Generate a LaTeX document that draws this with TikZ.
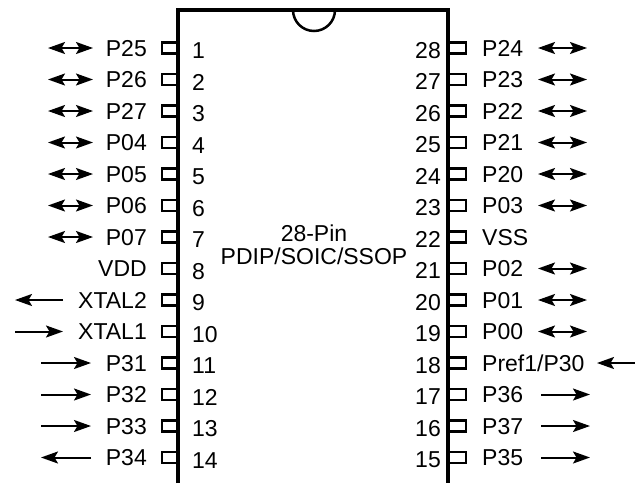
\documentclass[tikz,border=0pt]{standalone}
\usepackage{fontspec}
\setmainfont{Liberation Sans}
\usetikzlibrary{arrows.meta, positioning}

\tikzset{
  pinlbl/.style={inner sep=0pt, text height=16.5pt, text depth=0pt, font=\fontsize{23}{20}\selectfont},
  pinnum/.style={inner sep=0pt, font=\fontsize{23}{20}\selectfont},
  stub/.style={line width=2.5pt},
  tip/.tip={Stealth[length=17pt, width=12pt, inset=3.5pt]},
  both/.style={tip-tip, line width=2pt},
  sig/.style={-tip, line width=2pt}
}

\begin{document}
\begin{tikzpicture}[x=1pt, y=1pt]
    \useasboundingbox (0, 0) rectangle (635, -483);

    % chip body with notch
    \draw[line width=3.5pt] (178, -483) -- (178, -10) -- (448, -10) -- (448, -483);
    \draw[line width=2.5pt] (293, -10) arc[start angle=180, end angle=360, radius=21pt];
    \node[pinnum, anchor=base] (title) at (314, -241) {28-Pin};
    \node[pinnum, anchor=base] (pkg) at (314, -264) {PDIP/SOIC/SSOP};

    % pins and numbers
    \foreach \r in {1,...,14} {
        \pgfmathsetmacro\py{-(48 + (\r - 1) * 31.5)}
        \pgfmathtruncatemacro\rr{29 - \r}
        \draw[stub] (178, \py - 5.5) -- (162, \py - 5.5) -- (162, \py + 5.5) -- (178, \py + 5.5);
        \draw[stub] (448, \py - 5.5) -- (466, \py - 5.5) -- (466, \py + 5.5) -- (448, \py + 5.5);
        \node[pinnum, anchor=base west] (n\r) at (192, \py - 10.5) {\r};
        \node[pinnum, anchor=base east] (n\rr) at (441, \py - 10) {\rr};
    }

    % left labels
    \node[pinlbl, anchor=east] (l1) at (147, -48) {P25};
    \node[pinlbl, anchor=east] (l2) at (147, -79.5) {P26};
    \node[pinlbl, anchor=east] (l3) at (147, -111) {P27};
    \node[pinlbl, anchor=east] (l4) at (147, -142.5) {P04};
    \node[pinlbl, anchor=east] (l5) at (147, -174) {P05};
    \node[pinlbl, anchor=east] (l6) at (147, -205.5) {P06};
    \node[pinlbl, anchor=east] (l7) at (147, -237) {P07};
    \node[pinlbl, anchor=east] (l8) at (147, -268.5) {VDD};
    \node[pinlbl, anchor=east] (l9) at (147, -300) {XTAL2};
    \node[pinlbl, anchor=east] (l10) at (147, -331.5) {XTAL1};
    \node[pinlbl, anchor=east] (l11) at (147, -363) {P31};
    \node[pinlbl, anchor=east] (l12) at (147, -394.5) {P32};
    \node[pinlbl, anchor=east] (l13) at (147, -426) {P33};
    \node[pinlbl, anchor=east] (l14) at (147, -457.5) {P34};

    % right labels
    \node[pinlbl, anchor=west] (r28) at (482, -48) {P24};
    \node[pinlbl, anchor=west] (r27) at (482, -79.5) {P23};
    \node[pinlbl, anchor=west] (r26) at (482, -111) {P22};
    \node[pinlbl, anchor=west] (r25) at (482, -142.5) {P21};
    \node[pinlbl, anchor=west] (r24) at (482, -174) {P20};
    \node[pinlbl, anchor=west] (r23) at (482, -205.5) {P03};
    \node[pinlbl, anchor=west] (r22) at (482, -237) {VSS};
    \node[pinlbl, anchor=west] (r21) at (482, -268.5) {P02};
    \node[pinlbl, anchor=west] (r20) at (482, -300) {P01};
    \node[pinlbl, anchor=west] (r19) at (482, -331.5) {P00};
    \node[pinlbl, anchor=west] (r18) at (482, -363) {Pref1/P30};
    \node[pinlbl, anchor=west] (r17) at (482, -394.5) {P36};
    \node[pinlbl, anchor=west] (r16) at (482, -426) {P37};
    \node[pinlbl, anchor=west] (r15) at (482, -457.5) {P35};

    % arrow columns
    \coordinate (lbo) at (48, 0);
    \coordinate (lbi) at (93, 0);
    \coordinate (lxo) at (15, 0);
    \coordinate (lxi) at (63, 0);
    \coordinate (lpo) at (41, 0);
    \coordinate (lpi) at (91, 0);
    \coordinate (rbi) at (538, 0);
    \coordinate (rbo) at (587, 0);
    \coordinate (rri) at (597, 0);
    \coordinate (rro) at (635, 0);
    \coordinate (rpi) at (541, 0);
    \coordinate (rpo) at (590, 0);

    % left arrows
    \draw[both] (lbo |- l1) -- (lbi |- l1);
    \draw[both] (lbo |- l2) -- (lbi |- l2);
    \draw[both] (lbo |- l3) -- (lbi |- l3);
    \draw[both] (lbo |- l4) -- (lbi |- l4);
    \draw[both] (lbo |- l5) -- (lbi |- l5);
    \draw[both] (lbo |- l6) -- (lbi |- l6);
    \draw[both] (lbo |- l7) -- (lbi |- l7);
    \draw[sig] (lxi |- l9) -- (lxo |- l9);
    \draw[sig] (lxo |- l10) -- (lxi |- l10);
    \draw[sig] (lpo |- l11) -- (lpi |- l11);
    \draw[sig] (lpo |- l12) -- (lpi |- l12);
    \draw[sig] (lpo |- l13) -- (lpi |- l13);
    \draw[sig] (lpi |- l14) -- (lpo |- l14);

    % right arrows
    \draw[both] (rbi |- r28) -- (rbo |- r28);
    \draw[both] (rbi |- r27) -- (rbo |- r27);
    \draw[both] (rbi |- r26) -- (rbo |- r26);
    \draw[both] (rbi |- r25) -- (rbo |- r25);
    \draw[both] (rbi |- r24) -- (rbo |- r24);
    \draw[both] (rbi |- r23) -- (rbo |- r23);
    \draw[both] (rbi |- r21) -- (rbo |- r21);
    \draw[both] (rbi |- r20) -- (rbo |- r20);
    \draw[both] (rbi |- r19) -- (rbo |- r19);
    \draw[sig] (rro |- r18) -- (rri |- r18);
    \draw[sig] (rpi |- r17) -- (rpo |- r17);
    \draw[sig] (rpi |- r16) -- (rpo |- r16);
    \draw[sig] (rpi |- r15) -- (rpo |- r15);
\end{tikzpicture}
\end{document}
